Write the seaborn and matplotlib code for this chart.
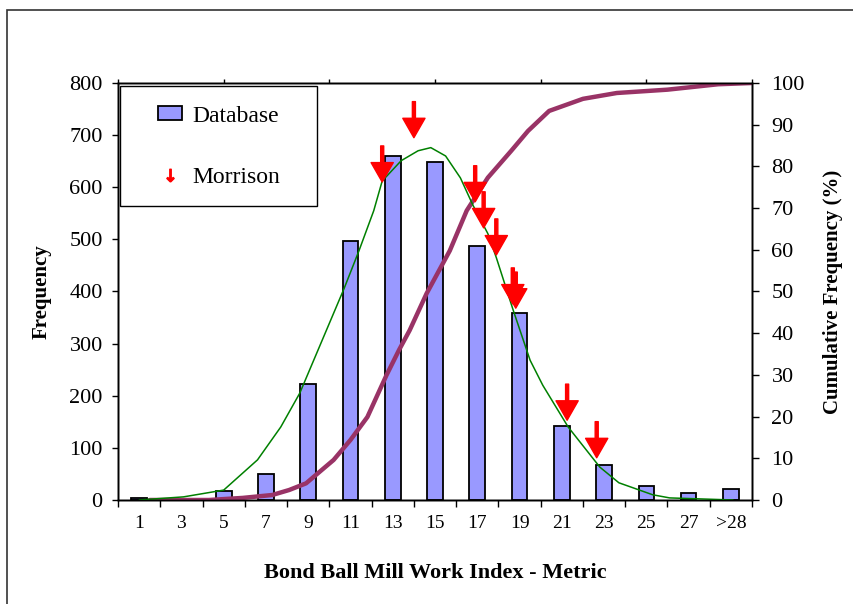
import numpy as np
import matplotlib
matplotlib.use('Agg')
import matplotlib.pyplot as plt
import seaborn as sns
from matplotlib.patches import Patch, Rectangle
from matplotlib.lines import Line2D

# histogram of the database (frequency per work index class)
labels = ["1", "3", "5", "7", "9", "11", "13", "15", "17", "19", "21", "23", "25", "27", ">28"]
counts = [3, 1, 17, 50, 223, 496, 660, 649, 488, 359, 142, 68, 27, 14, 21]

# fitted normal curve (work index, frequency)
green_x = [1.0, 3.1, 5.0, 6.6, 7.7, 8.6, 10.7, 11.4, 12.1, 12.5, 13.4, 14.2, 14.8,
           15.5, 16.2, 16.8, 17.5, 17.9, 18.7, 19.5, 20.1, 21.3, 22.8, 23.7, 25.3, 26.1, 29.1]
green_y = [0, 6, 19, 77, 140, 205, 406, 478, 555, 612, 651, 670, 676,
           660, 618, 565, 511, 465, 364, 268, 220, 140, 63, 33, 10, 4, 0]

# cumulative frequency (work index, %)
cum_x = [1.5, 4.3, 5.9, 7.3, 8.1, 8.9, 9.2, 10.2, 11.0, 11.8, 12.7, 13.3, 13.8,
         14.6, 15.7, 16.5, 17.5, 18.6, 19.4, 20.4, 22.0, 23.6, 24.8, 26.0, 28.4, 30.0]
cum_y = [0, 0, 0.5, 1.2, 2.4, 4.0, 5.3, 9.6, 14.4, 19.9, 29.9, 36.0, 40.7,
         49.5, 59.8, 69.4, 77.3, 83.7, 88.5, 93.3, 96.2, 97.6, 98.0, 98.4, 99.7, 100]

# Morrison samples (work index, frequency at arrow tip)
morrison_x = [12.5, 14.0, 16.9, 17.3, 17.9, 18.68, 18.82, 21.25, 22.65]
morrison_y = [610, 695, 572, 522, 470, 376, 368, 153, 81]

sns.set_theme(style='ticks')
plt.rcParams['font.family'] = ['Liberation Serif', 'DejaVu Serif']
plt.rcParams.update({'axes.edgecolor': 'black', 'xtick.color': 'black', 'ytick.color': 'black',
                     'text.color': 'black', 'axes.labelcolor': 'black', 'axes.linewidth': 1.0})

fig = plt.figure(figsize=(8.54, 6.04), dpi=100)
ax = fig.add_axes([0.1382, 0.1722, 0.7424, 0.6904])

sns.barplot(x=labels, y=counts, color='#9999ff', saturation=1, edgecolor='black',
            linewidth=1.3, width=0.37, errorbar=None, ax=ax)
ax.set_xlim(-0.5, 14.5)
ax.set_ylim(0, 800)
ax.set_yticks(range(0, 801, 100))
ax.set_xticks(np.arange(-0.5, 15, 1), minor=True)
ax.tick_params(axis='x', which='major', length=0, pad=11, labelsize=14)
ax.tick_params(axis='x', which='minor', length=5, width=1, direction='out')
ax.tick_params(axis='y', length=4, width=1, pad=7, labelsize=16, direction='out')
ax.set_xlabel('Bond Ball Mill Work Index - Metric', fontsize=16, fontweight='bold', labelpad=22)
ax.set_ylabel('Frequency', fontsize=15, fontweight='bold', labelpad=13)

# continuous work index axis for the curves
axf = ax.twiny()
sns.lineplot(x=green_x, y=green_y, ax=axf, color='#008000', linewidth=1.1, sort=False, estimator=None)
axf.set_xlim(0, 30)
axf.set_ylim(0, 800)
axf.set_xticks(range(0, 31, 5))
axf.set_xticklabels([])
axf.tick_params(axis='x', length=3, width=1, direction='out')
axf.set_xlabel('')

for mx, my in zip(morrison_x, morrison_y):
    axf.annotate('', xy=(mx, my), xytext=(0, 26), textcoords='offset points',
                 arrowprops=dict(arrowstyle='simple,head_length=14,head_width=16,tail_width=2.2',
                                 mutation_scale=1, color='red', shrinkA=0, shrinkB=0))

axc = axf.twinx()
sns.lineplot(x=cum_x, y=cum_y, ax=axc, color='#993366', linewidth=3.2, sort=False, estimator=None)
axc.set_xlim(0, 30)
axc.set_ylim(0, 100)
axc.set_yticks(range(0, 101, 10))
axc.tick_params(axis='y', length=5, width=1, pad=9, labelsize=16, direction='out')
axc.set_ylabel('Cumulative Frequency (%)', fontsize=15, fontweight='bold', labelpad=13)

axc.set_zorder(2)
axf.set_zorder(3)

# legend box
axf.add_patch(Rectangle((0.003, 0.705), 0.311, 0.288, transform=axf.transAxes,
                        facecolor='white', edgecolor='black', lw=1.0, zorder=4))
handles = [Patch(facecolor='#9999ff', edgecolor='black', linewidth=1.3),
           Line2D([], [], marker=r'$\downarrow$', color='red', linestyle='none', markersize=9)]
axf.legend(handles, ['Database', 'Morrison'], loc='center', bbox_to_anchor=(0.16, 0.847),
           frameon=False, fontsize=17, handlelength=1.0, handleheight=0.55,
           handletextpad=0.45, labelspacing=1.7)

# outer border of the figure
fig.add_artist(Rectangle((7 / 854, -0.1), 1.2, (604 - 10) / 604 + 0.1, transform=fig.transFigure,
                         fill=False, edgecolor='#333333', lw=1.2))

fig.savefig('out.png', dpi=100)
